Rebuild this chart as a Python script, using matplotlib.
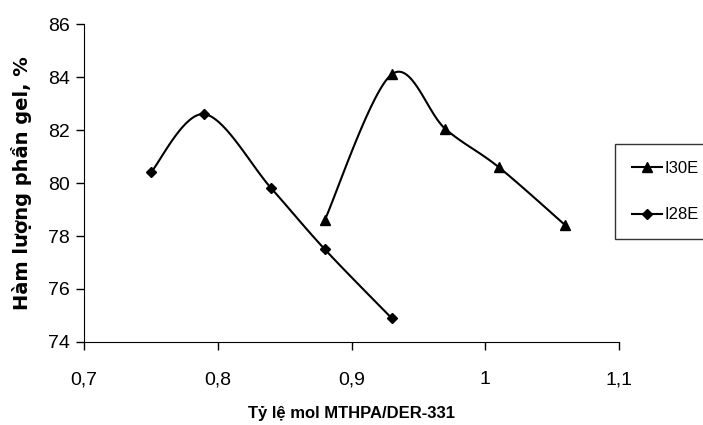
import numpy as np
import matplotlib
matplotlib.use("Agg")
from matplotlib import pyplot as plt

# data
x_i30e = [0.88, 0.93, 0.97, 1.01, 1.06]
y_i30e = [78.6, 84.1, 82.05, 80.6, 78.4]
x_i28e = [0.75, 0.79, 0.84, 0.88, 0.93]
y_i28e = [80.4, 82.6, 79.8, 77.5, 74.9]
x_ticks = [0.7, 0.8, 0.9, 1.0, 1.1]
x_ticklabels = ["0,7", "0,8", "0,9", "1", "1,1"]
y_ticks = [74, 76, 78, 80, 82, 84, 86]

font = "Liberation Sans"


def smooth(xs, ys, n=30):
    # excel-like smoothed line: bezier segments through the points
    px = np.array(xs, dtype=float)
    py = np.array(ys, dtype=float)
    sx, sy = 0.4, 12.0
    P = np.column_stack([px / sx, py / sy])
    out = []
    for i in range(len(P) - 1):
        p0 = P[i - 1] if i > 0 else P[i]
        p1 = P[i]
        p2 = P[i + 1]
        p3 = P[i + 2] if i + 2 < len(P) else P[i + 1]
        c1 = p1 + (p2 - p0) / 6.0
        c2 = p2 - (p3 - p1) / 6.0
        t = np.linspace(0, 1, n)[:, None]
        seg = ((1 - t) ** 3) * p1 + 3 * ((1 - t) ** 2) * t * c1 + 3 * (1 - t) * t ** 2 * c2 + t ** 3 * p2
        out.append(seg if i == 0 else seg[1:])
    out = np.vstack(out)
    return out[:, 0] * sx, out[:, 1] * sy


fig = plt.figure(figsize=(7.03, 4.25), dpi=100)
ax = fig.add_axes([0.1195, 0.1953, 0.761, 0.7482])

for xs, ys, m, ms, lab in [(x_i30e, y_i30e, "^", 7.5, "I30E"), (x_i28e, y_i28e, "D", 5.5, "I28E")]:
    cx, cy = smooth(xs, ys)
    ax.plot(cx, cy, color="black", lw=1.5)
    ax.plot(xs, ys, ls="none", marker=m, ms=ms, color="black")
    ax.plot([], [], color="black", lw=1.5, marker=m, ms=ms, label=lab)

ax.set_xlim(0.7, 1.1)
ax.set_ylim(74, 86)
ax.set_xticks(x_ticks)
ax.set_xticklabels(x_ticklabels)
ax.set_yticks(y_ticks)
ax.spines["top"].set_visible(False)
ax.spines["right"].set_visible(False)
ax.tick_params(direction="out", length=6, width=1, labelsize=14)
ax.tick_params(axis="x", pad=15)
ax.tick_params(axis="y", pad=4)
for lbl in ax.get_xticklabels() + ax.get_yticklabels():
    lbl.set_family(font)

ax.set_xlabel("Tỷ lệ mol MTHPA/DER-331", family=font, fontweight="bold", fontsize=12, labelpad=13)
ax.set_ylabel("Hàm lượng phần gel, %", family="DejaVu Sans", fontweight="bold", fontsize=14, labelpad=12)

leg = ax.legend(loc="upper left", bbox_to_anchor=(0.875, 0.661), bbox_transform=fig.transFigure,
                frameon=True, fancybox=False, edgecolor="black", handlelength=1.8, handletextpad=0.15,
                labelspacing=1.9, borderpad=1.0, borderaxespad=0, prop={"family": font, "size": 12})
leg.get_frame().set_linewidth(1.0)

fig.savefig("out.png", dpi=100)
